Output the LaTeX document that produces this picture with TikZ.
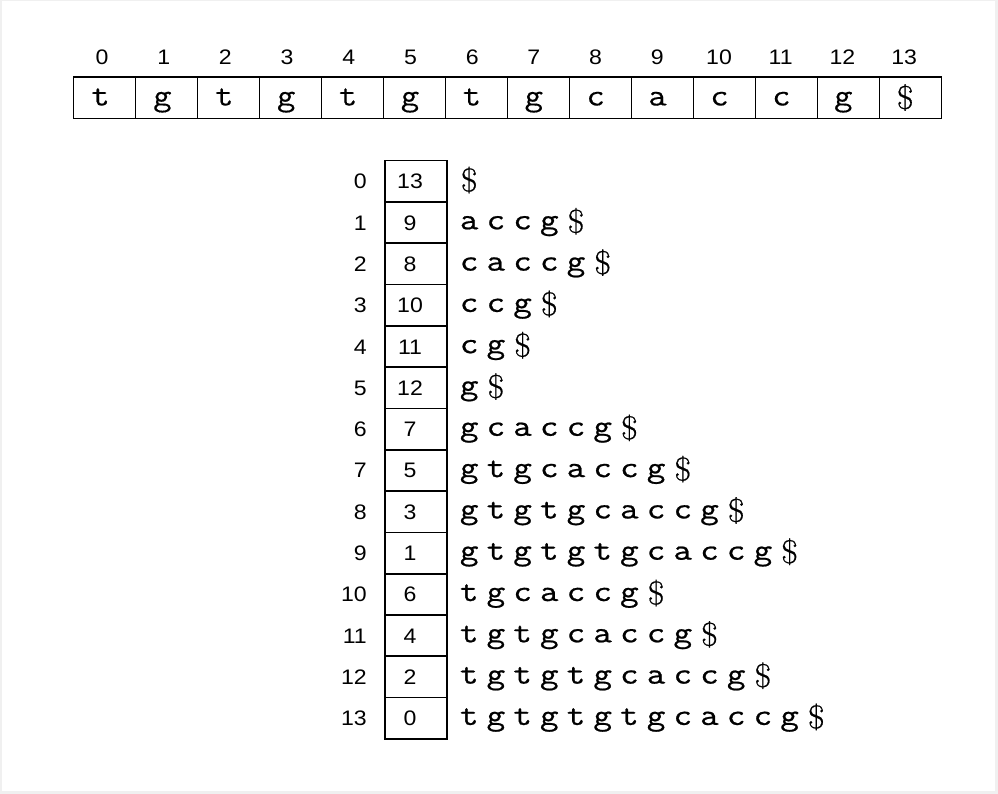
\documentclass[tikz,border=0pt]{standalone}
\usepackage{fontspec}
\usepackage{graphicx}
\newfontfamily\numfont{Liberation Sans}
\newfontfamily\ttheavy{Latin Modern Mono}[FakeBold=0.7]
\newfontfamily\ttmid{Latin Modern Mono}[FakeBold=0.35]
\newfontfamily\rmheavy{Latin Modern Roman}[FakeBold=0.5]
\definecolor{framegray}{HTML}{F0F0F0}
\newcommand{\ch}[1]{\makebox[26.7pt][c]{\scalebox{1.2}[1]{\ttheavy #1}}}
\newcommand{\dol}{\makebox[26.7pt][c]{\raisebox{-3.5pt}{\scalebox{1.1}[1]{\fontsize{33}{35}\selectfont\rmheavy\$}}}}
\def\sufloop#1{\ifx#1\relax\else\if#1D\dol\else\ch{#1}\fi\expandafter\sufloop\fi}
\newcommand{\suf}[1]{\sufloop#1\relax}
\tikzset{
  cellbox/.style={draw=black, line width=1.6pt, minimum width=62pt, minimum height=41.4pt, inner sep=0pt},
  numlabel/.style={inner sep=0pt, anchor=base, font=\numfont\fontsize{21}{23}\selectfont},
  idxlabel/.style={inner sep=0pt, anchor=base east, font=\numfont\fontsize{21}{23}\selectfont},
  topletter/.style={inner sep=0pt, anchor=base, font=\fontsize{31}{33}\selectfont},
  suffixtext/.style={inner sep=0pt, anchor=base west, font=\fontsize{30}{32}\selectfont}
}
\begin{document}
\begin{tikzpicture}[x=1pt,y=-1pt]
  \useasboundingbox (0,0) rectangle (998,794);
  \fill[framegray] (0,0) rectangle (998,794);
  \fill[white] (2,1) rectangle (994.5,791);
  % top array
  \foreach \k/\c in {0/t,1/g,2/t,3/g,4/t,5/g,6/t,7/g,8/c,9/a,10/c,11/c,12/g,13/D} {
    \node[cellbox] (c\k) at ({104.3+62*\k},97.75) {};
    \node[numlabel] (i\k) at ({102+61.7*\k},64.8) {\scalebox{1.1}[1]{\k}};
    \node[topletter] (l\k) at ({100.5+61.9*\k},105.5) {\if\c D\raisebox{-3.5pt}{\scalebox{1.1}[1]{\fontsize{33}{35}\selectfont\rmheavy\$}}\else\scalebox{1.15}[1]{\ttmid\c}\fi};
  }
  % suffix array
  \foreach \i/\v/\s in {0/13/D,1/9/accgD,2/8/caccgD,3/10/ccgD,4/11/cgD,5/12/gD,6/7/gcaccgD,7/5/gtgcaccgD,8/3/gtgtgcaccgD,9/1/gtgtgtgcaccgD,10/6/tgcaccgD,11/4/tgtgcaccgD,12/2/tgtgtgcaccgD,13/0/tgtgtgtgcaccgD} {
    \node[cellbox] (s\i) at (416,{181.3+41.3*\i}) {};
    \node[numlabel] (v\i) at (410,{188.8+41.3*\i}) {\scalebox{1.1}[1]{\v}};
    \node[idxlabel] (r\i) at (367,{188.8+41.3*\i}) {\scalebox{1.1}[1]{\i}};
    \node[suffixtext] (t\i) at (455.65,{188+41.3*\i}) {\expandafter\suf\expandafter{\s}};
  }
\end{tikzpicture}
\end{document}
